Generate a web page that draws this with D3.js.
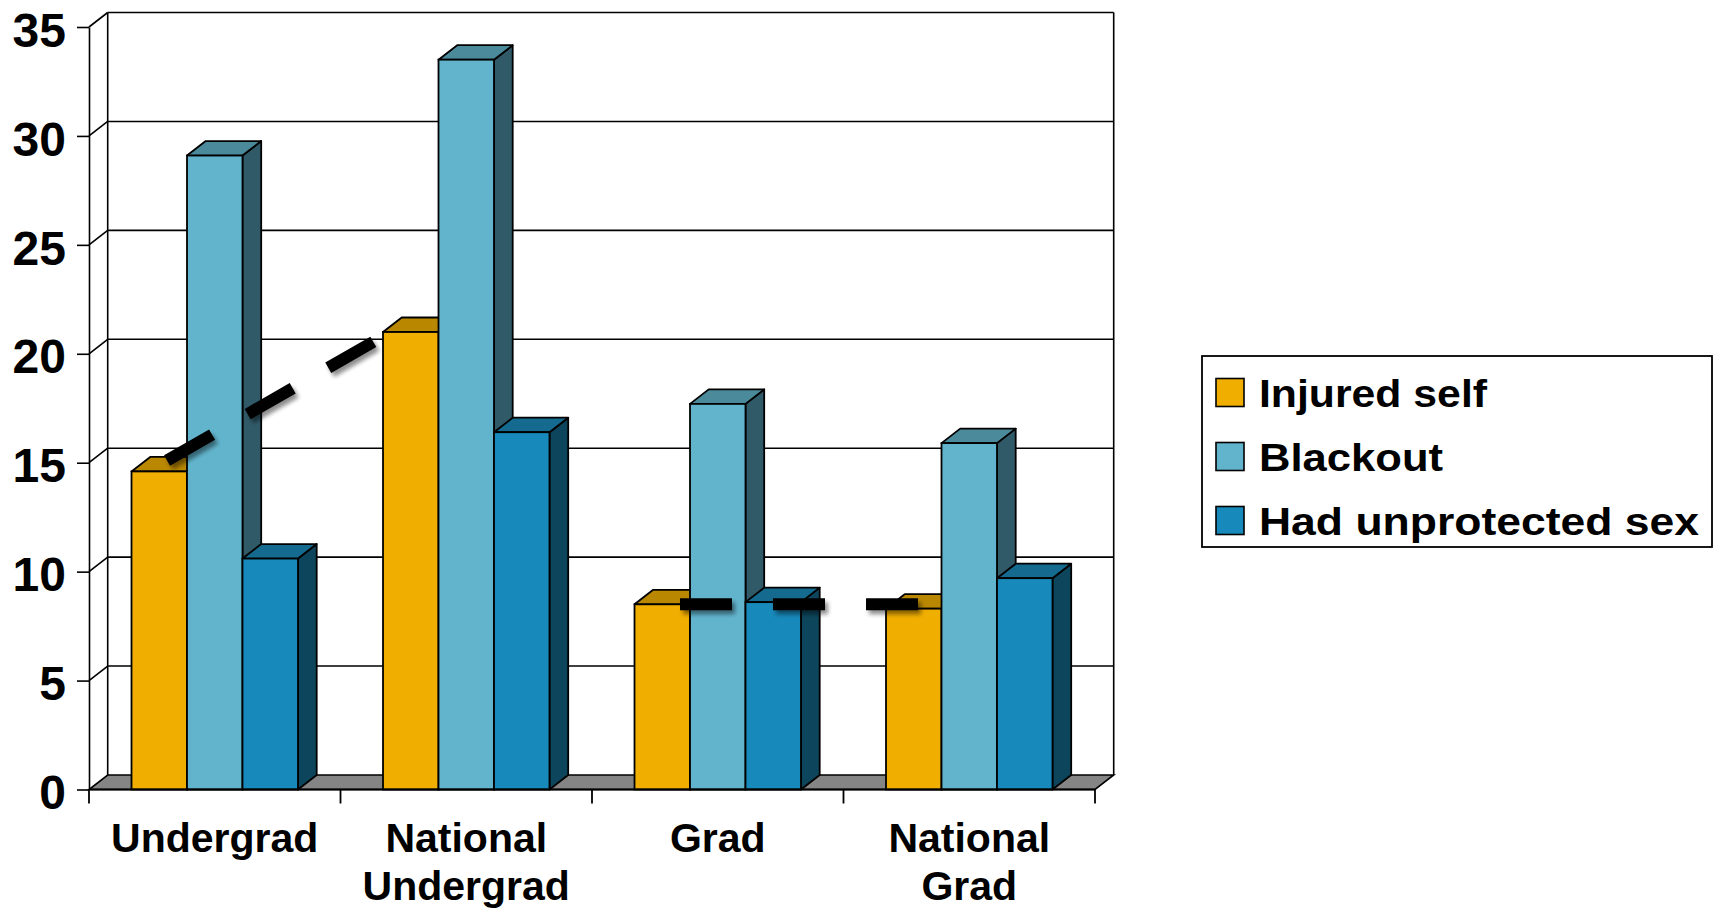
<!DOCTYPE html>
<html>
<head>
<meta charset="utf-8">
<script src="https://cdn.jsdelivr.net/npm/d3@7"></script>
<style>
  body { margin: 0; background: #fff; }
  text { font-family: "Liberation Sans", Arial, sans-serif; font-weight: bold; fill: #000; }
</style>
</head>
<body>
<script>
    // Chart data
    const categories = ["Undergrad", "National Undergrad", "Grad", "National Grad"];
    const categoryLines = [["Undergrad"], ["National", "Undergrad"], ["Grad"], ["National", "Grad"]];
    const series = ["Injured self", "Blackout", "Had unprotected sex"];
    const injuredSelf = [14.6, 21.0, 8.5, 8.3];
    const blackout = [29.1, 33.5, 17.7, 15.9];
    const unprotectedSex = [10.6, 16.4, 8.6, 9.7];
    const yTicks = [0, 5, 10, 15, 20, 25, 30, 35];

    // dashed comparison lines drawn over the "Injured self" bars
    const compareFrom = ["Undergrad", "Grad"];
    const compareTo = ["National Undergrad", "National Grad"];
    const compareFromValue = [15.1, 8.5];
    const compareToValue = [20.6, 8.5];
    const compareFromFrac = [0.64, 0.82];   // position along the bar width
    const compareToFrac = [-0.14, 0.6];

    const seriesValues = [injuredSelf, blackout, unprotectedSex];

    // colours for front / top / side faces
    const colors = {
        "Injured self": { front: "#F0AE00", top: "#B98700", side: "#8A6500" },
        "Blackout": { front: "#62B4CD", top: "#4A8A9A", side: "#315A68" },
        "Had unprotected sex": { front: "#1789BA", top: "#156A8F", side: "#0D465C" }
    };

    const width = 1719, height = 909;
    const plot = { left: 89, right: 1095, top: 27, bottom: 789.5 };
    const depth = { x: 18.7, y: -14.5 };

    const svg = d3.select("body").append("svg")
        .attr("width", width)
        .attr("height", height);

    // drop shadow for the dashes (user space so horizontal lines still render)
    const defs = svg.append("defs");
    const shadow = defs.append("filter").attr("id", "shadow")
        .attr("filterUnits", "userSpaceOnUse")
        .attr("x", 0).attr("y", 0).attr("width", width).attr("height", height);
    shadow.append("feGaussianBlur").attr("in", "SourceAlpha").attr("stdDeviation", 2.2);
    shadow.append("feOffset").attr("dx", 3).attr("dy", 4).attr("result", "off");
    shadow.append("feComponentTransfer").append("feFuncA").attr("type", "linear").attr("slope", 0.45);
    const merge = shadow.append("feMerge");
    merge.append("feMergeNode");
    merge.append("feMergeNode").attr("in", "SourceGraphic");

    // scales
    const x0 = d3.scaleBand()
        .domain(categories)
        .range([plot.left, plot.right])
        .padding(0);

    const x1 = d3.scaleBand()
        .domain(series)
        .range([0, x0.bandwidth()])
        .paddingInner(0)
        .paddingOuter(0.766);

    const y = d3.scaleLinear()
        .domain([0, 35])
        .range([plot.bottom, plot.top]);

    const bw = x1.bandwidth();

    // floor
    svg.append("polygon")
        .attr("points", [
            [plot.left, y(0)], [plot.right, y(0)],
            [plot.right + depth.x, y(0) + depth.y], [plot.left + depth.x, y(0) + depth.y]
        ].map(p => p.join(",")).join(" "))
        .attr("fill", "#858585")
        .attr("stroke", "#000")
        .attr("stroke-width", 1.6);

    // back wall gridlines
    svg.append("g").selectAll("line.grid")
        .data(yTicks.filter(d => d > 0))
        .join("line")
        .attr("x1", plot.left + depth.x)
        .attr("x2", plot.right + depth.x)
        .attr("y1", d => y(d) + depth.y)
        .attr("y2", d => y(d) + depth.y)
        .attr("stroke", "#000")
        .attr("stroke-width", 1.6);

    // side wall lines
    svg.append("g").selectAll("line.side")
        .data(yTicks.filter(d => d > 0))
        .join("line")
        .attr("x1", plot.left)
        .attr("x2", plot.left + depth.x)
        .attr("y1", d => y(d))
        .attr("y2", d => y(d) + depth.y)
        .attr("stroke", "#000")
        .attr("stroke-width", 1.6);

    // back wall vertical edges
    [plot.left + depth.x, plot.right + depth.x].forEach(xx => {
        svg.append("line")
            .attr("x1", xx).attr("x2", xx)
            .attr("y1", y(35) + depth.y).attr("y2", y(0) + depth.y)
            .attr("stroke", "#000").attr("stroke-width", 1.6);
    });

    // y axis
    const yAxis = d3.axisLeft(y)
        .tickValues(yTicks)
        .tickSize(12)
        .tickSizeOuter(0)
        .tickPadding(11);

    const yg = svg.append("g")
        .attr("transform", "translate(" + plot.left + ",0)")
        .call(yAxis);
    yg.select(".domain").attr("stroke", "#000").attr("stroke-width", 1.6);
    yg.selectAll(".tick line").attr("stroke", "#000").attr("stroke-width", 1.6);
    yg.selectAll(".tick text")
        .attr("dy", "0.4em")
        .style("font-size", "48px")
        .style("font-family", "'Liberation Sans', Arial, sans-serif")
        .style("font-weight", "bold")
        .attr("fill", "#000");

    // bars
    const groups = svg.append("g").selectAll("g")
        .data(categories)
        .join("g")
        .attr("transform", d => "translate(" + x0(d) + ",0)");

    groups.selectAll("g")
        .data((c, i) => series.map((s, j) => ({ cat: c, key: s, value: seriesValues[j][i] })))
        .join("g")
        .each(function (d) {
            const g = d3.select(this);
            const fx = x1(d.key);
            const top = y(d.value), base = y(0);
            const c = colors[d.key];
            g.append("polygon")
                .attr("points", [
                    [fx + bw, top], [fx + bw + depth.x, top + depth.y],
                    [fx + bw + depth.x, base + depth.y], [fx + bw, base]
                ].map(p => p.join(",")).join(" "))
                .attr("fill", c.side)
                .attr("stroke", "#000").attr("stroke-width", 1.8).attr("stroke-linejoin", "round");
            g.append("polygon")
                .attr("points", [
                    [fx, top], [fx + bw, top],
                    [fx + bw + depth.x, top + depth.y], [fx + depth.x, top + depth.y]
                ].map(p => p.join(",")).join(" "))
                .attr("fill", c.top)
                .attr("stroke", "#000").attr("stroke-width", 1.8).attr("stroke-linejoin", "round");
            g.append("rect")
                .attr("x", fx)
                .attr("y", top)
                .attr("width", bw)
                .attr("height", base - top)
                .attr("fill", c.front)
                .attr("stroke", "#000").attr("stroke-width", 1.8);
        });

    // x axis line and category boundary ticks
    svg.append("line")
        .attr("x1", plot.left).attr("x2", plot.right)
        .attr("y1", y(0)).attr("y2", y(0))
        .attr("stroke", "#000").attr("stroke-width", 1.8);

    const boundaries = categories.map(c => x0(c)).concat([x0.range()[1]]);
    svg.append("g").selectAll("line")
        .data(boundaries)
        .join("line")
        .attr("x1", d => d).attr("x2", d => d)
        .attr("y1", y(0)).attr("y2", y(0) + 14)
        .attr("stroke", "#000").attr("stroke-width", 1.8);

    // category labels
    const labels = svg.append("g").selectAll("text")
        .data(categories)
        .join("text")
        .attr("text-anchor", "middle")
        .attr("x", d => x0(d) + x0.bandwidth() / 2)
        .attr("y", 851.5)
        .style("font-size", "41px");
    labels.selectAll("tspan")
        .data((d, i) => categoryLines[i])
        .join("tspan")
        .attr("x", function () { return d3.select(this.parentNode).attr("x"); })
        .attr("dy", (d, i) => i === 0 ? 0 : 48.5)
        .text(d => d);

    // dashed comparison lines
    svg.append("g").selectAll("line")
        .data(compareFrom.map((c, i) => ({
            x1: x0(c) + x1(series[0]) + bw * compareFromFrac[i],
            y1: y(compareFromValue[i]),
            x2: x0(compareTo[i]) + x1(series[0]) + bw * compareToFrac[i],
            y2: y(compareToValue[i])
        })))
        .join("line")
        .attr("x1", d => d.x1).attr("y1", d => d.y1)
        .attr("x2", d => d.x2).attr("y2", d => d.y2)
        .attr("stroke", "#000")
        .attr("stroke-width", 12)
        .attr("stroke-dasharray", "52,41")
        .attr("filter", "url(#shadow)");

    // legend
    const legend = svg.append("g").attr("transform", "translate(1202,356)");
    legend.append("rect")
        .attr("width", 510).attr("height", 191)
        .attr("fill", "#fff").attr("stroke", "#000").attr("stroke-width", 1.8);

    const legendWidths = [228, 184, 440];
    const items = legend.selectAll("g.item")
        .data(series)
        .join("g")
        .attr("class", "item")
        .attr("transform", (d, i) => "translate(14," + (22.5 + i * 64) + ")");
    items.append("rect")
        .attr("width", 28).attr("height", 28)
        .attr("fill", d => colors[d].front)
        .attr("stroke", "#000").attr("stroke-width", 1.6);
    items.append("text")
        .attr("x", 43)
        .attr("y", 28.5)
        .style("font-size", "39px")
        .attr("textLength", (d, i) => legendWidths[i])
        .attr("lengthAdjust", "spacingAndGlyphs")
        .text(d => d);
</script>
</body>
</html>
